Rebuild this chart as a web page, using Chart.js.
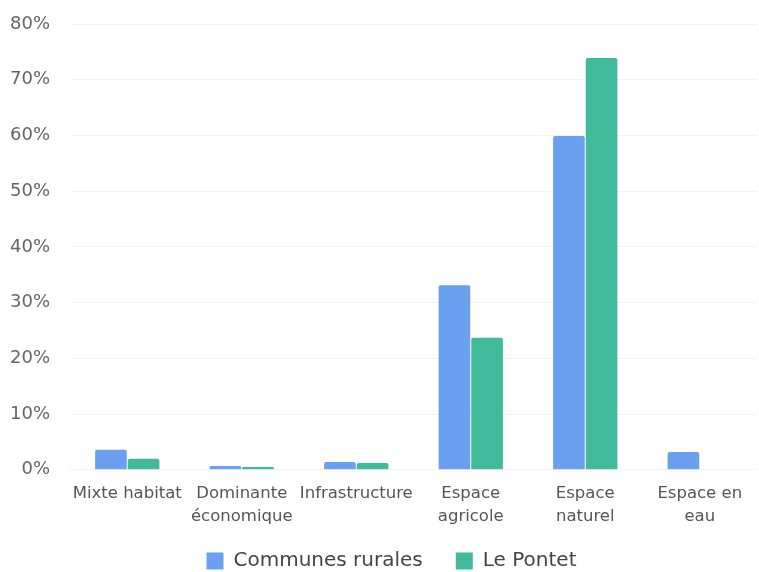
<!DOCTYPE html>
<html lang="fr">
<head>
<meta charset="UTF-8">
<title>Occupation du sol</title>
<script src="https://cdn.jsdelivr.net/npm/chart.js"></script>
<style>
  html, body { margin: 0; padding: 0; background: #fff; overflow: hidden; }
  #wrap { width: 759px; height: 572px; }
</style>
</head>
<body>
<div id="wrap"><canvas id="chart"></canvas></div>
<script>
const categories = [
  "Mixte habitat",
  ["Dominante", "économique"],
  "Infrastructure",
  ["Espace", "agricole"],
  ["Espace", "naturel"],
  ["Espace en", "eau"]
];
const communesRurales = [3.6, 0.7, 1.4, 33.1, 59.9, 3.2];
const lePontet = [2.0, 0.5, 1.2, 23.7, 73.9, 0];

const fontFam = '"DejaVu Sans", sans-serif';

// keep the legend low and a little right of centre
const legendFit = {
  id: 'legendFit',
  beforeInit(chart) {
    const fit = chart.legend.fit;
    chart.legend.fit = function () {
      fit.call(this);
      this.height = 40;
    };
  },
  afterLayout(chart) {
    chart.legend.left += 18;
    chart.legend.right += 18;
    chart.legend.top -= 14;
  }
};

new Chart(document.getElementById('chart'), {
  type: 'bar',
  data: {
    labels: categories,
    datasets: [
      { label: "Communes rurales", data: communesRurales, backgroundColor: "#6b9ff0" },
      { label: "Le Pontet", data: lePontet, backgroundColor: "#41b99b" }
    ]
  },
  plugins: [legendFit],
  options: {
    responsive: true,
    maintainAspectRatio: false,
    animation: false,
    layout: { padding: { left: -10, right: 2, top: 24, bottom: 0 } },
    datasets: { bar: { categoryPercentage: 0.57, barPercentage: 0.97, borderRadius: 2 } },
    plugins: {
      legend: {
        position: 'bottom',
        labels: {
          font: { family: fontFam, size: 20 },
          color: '#444',
          boxWidth: 17,
          boxHeight: 17,
          padding: 33
        }
      },
      tooltip: { enabled: false }
    },
    scales: {
      x: {
        grid: { display: false },
        border: { display: false },
        ticks: {
          font: { family: fontFam, size: 16.5, lineHeight: 1.4 },
          color: '#555',
          padding: 4,
          autoSkip: false,
          maxRotation: 0
        }
      },
      y: {
        min: 0,
        max: 80,
        grid: { color: '#f3f3f3', drawTicks: false },
        border: { display: false },
        afterFit: s => { s.paddingTop = 8; },
        ticks: {
          stepSize: 10,
          font: { family: fontFam, size: 18 },
          color: '#666',
          padding: 20,
          callback: v => v + '%'
        }
      }
    }
  }
});
</script>
</body>
</html>
